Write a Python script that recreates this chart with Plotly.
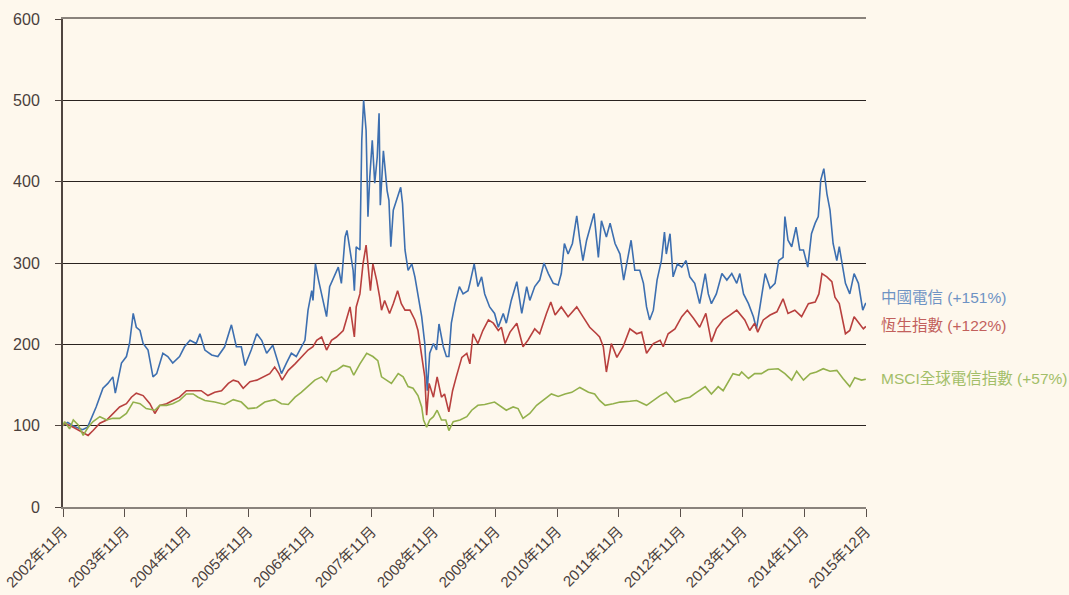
import pandas as pd
import plotly.graph_objects as go

# ---- data (decimal years, index values) ----
tick_dates = ["2002-11-01", "2003-11-01", "2004-11-01", "2005-11-01", "2006-11-01",
              "2007-11-01", "2008-11-01", "2009-11-01", "2010-11-01", "2011-11-01",
              "2012-11-01", "2013-11-01", "2014-11-01", "2015-11-01"]
tick_labels = ["2002年11月", "2003年11月", "2004年11月", "2005年11月", "2006年11月",
               "2007年11月", "2008年11月", "2009年11月", "2010年11月", "2011年11月",
               "2012年11月", "2013年11月", "2014年11月", "2015年12月"]

series_names = ["中國電信 (+151%)", "恆生指數 (+122%)", "MSCI全球電信指數 (+57%)"]

ct_t = [2002.83, 2002.91, 2002.99, 2003.07, 2003.15, 2003.23, 2003.29, 2003.37, 2003.48, 2003.56,
        2003.64, 2003.68, 2003.78, 2003.86, 2003.91, 2003.97, 2004.02, 2004.08, 2004.13, 2004.21,
        2004.29, 2004.35, 2004.45, 2004.53, 2004.61, 2004.72, 2004.80, 2004.89, 2004.99, 2005.05,
        2005.13, 2005.24, 2005.34, 2005.45, 2005.56, 2005.64, 2005.72, 2005.78, 2005.88, 2005.97,
        2006.05, 2006.13, 2006.23, 2006.29, 2006.37, 2006.45, 2006.53, 2006.61, 2006.69, 2006.75,
        2006.80, 2006.86, 2006.88, 2006.92, 2006.97, 2007.04, 2007.10, 2007.15, 2007.22, 2007.29,
        2007.34, 2007.40, 2007.43, 2007.48, 2007.53, 2007.55, 2007.58, 2007.64, 2007.67, 2007.70,
        2007.74, 2007.77, 2007.80, 2007.84, 2007.88, 2007.92, 2007.95, 2007.97, 2008.02, 2008.04,
        2008.08, 2008.11, 2008.14, 2008.18, 2008.23, 2008.30, 2008.33, 2008.37, 2008.42, 2008.48,
        2008.53, 2008.58, 2008.64, 2008.69, 2008.73, 2008.77, 2008.83, 2008.88, 2008.92, 2008.99,
        2009.04, 2009.08, 2009.12, 2009.18, 2009.25, 2009.31, 2009.39, 2009.42, 2009.49, 2009.55,
        2009.61, 2009.66, 2009.74, 2009.82, 2009.88, 2009.96, 2010.01, 2010.09, 2010.18, 2010.26,
        2010.34, 2010.39, 2010.47, 2010.55, 2010.62, 2010.69, 2010.77, 2010.85, 2010.90, 2010.95,
        2011.01, 2011.08, 2011.15, 2011.20, 2011.25, 2011.31, 2011.38, 2011.43, 2011.50, 2011.55,
        2011.63, 2011.69, 2011.77, 2011.85, 2011.91, 2011.96, 2012.03, 2012.09, 2012.17, 2012.23,
        2012.28, 2012.33, 2012.39, 2012.45, 2012.52, 2012.57, 2012.60, 2012.66, 2012.71, 2012.78,
        2012.85, 2012.92, 2012.98, 2013.06, 2013.14, 2013.23, 2013.28, 2013.33, 2013.41, 2013.50,
        2013.58, 2013.66, 2013.74, 2013.79, 2013.85, 2013.93, 2014.01, 2014.06, 2014.12, 2014.20,
        2014.28, 2014.36, 2014.42, 2014.49, 2014.52, 2014.57, 2014.63, 2014.70, 2014.76, 2014.82,
        2014.89, 2014.95, 2015.01, 2015.06, 2015.10, 2015.15, 2015.20, 2015.25, 2015.30, 2015.36,
        2015.40, 2015.45, 2015.50, 2015.57, 2015.64, 2015.71, 2015.78, 2015.83]
ct_v = [100, 104, 100, 97, 95, 98, 109, 123, 146, 152,
        160, 140, 177, 185, 201, 238, 221, 217, 201, 193,
        160, 164, 189, 185, 177, 185, 197, 205, 201, 213,
        193, 187, 185, 197, 224, 197, 197, 174, 193, 213,
        205, 189, 199, 185, 164, 177, 189, 185, 197, 205,
        242, 266, 254, 299, 279, 254, 234, 271, 283, 295,
        275, 332, 340, 316, 291, 266, 320, 316, 451, 500,
        463, 357, 406, 451, 398, 430, 484, 371, 438, 422,
        389, 377, 320, 365, 377, 393, 373, 316, 291, 299,
        283, 262, 234, 201, 143, 189, 201, 193, 225, 197,
        185, 185, 226, 250, 271, 262, 266, 275, 299, 271,
        283, 262, 246, 238, 221, 238, 226, 254, 277, 238,
        271, 254, 271, 279, 300, 287, 275, 273, 287, 324,
        311, 324, 358, 328, 303, 328, 349, 361, 307, 352,
        332, 349, 324, 311, 279, 299, 328, 291, 291, 275,
        246, 230, 242, 279, 303, 338, 311, 336, 283, 299,
        295, 303, 283, 275, 250, 287, 262, 250, 262, 287,
        279, 287, 275, 287, 262, 250, 234, 219, 246, 287,
        269, 275, 303, 307, 357, 328, 320, 344, 316, 316,
        295, 336, 349, 357, 402, 416, 385, 365, 324, 303,
        320, 295, 275, 262, 287, 275, 242, 251]

hsi_t = [2002.83, 2002.86, 2003.00, 2003.10, 2003.24, 2003.32, 2003.43, 2003.54, 2003.64, 2003.75,
         2003.86, 2003.94, 2004.02, 2004.13, 2004.24, 2004.32, 2004.40, 2004.51, 2004.61, 2004.72,
         2004.83, 2004.94, 2005.07, 2005.18, 2005.29, 2005.40, 2005.51, 2005.59, 2005.67, 2005.75,
         2005.86, 2005.97, 2006.07, 2006.18, 2006.26, 2006.33, 2006.38, 2006.48, 2006.59, 2006.69,
         2006.80, 2006.88, 2006.94, 2007.02, 2007.10, 2007.18, 2007.26, 2007.37, 2007.48, 2007.55,
         2007.58, 2007.64, 2007.69, 2007.74, 2007.77, 2007.81, 2007.85, 2007.91, 2007.96, 2007.99,
         2008.04, 2008.12, 2008.18, 2008.25, 2008.31, 2008.37, 2008.45, 2008.53, 2008.58, 2008.64,
         2008.69, 2008.72, 2008.76, 2008.83, 2008.89, 2008.96, 2009.01, 2009.08, 2009.14, 2009.20,
         2009.29, 2009.37, 2009.42, 2009.47, 2009.55, 2009.63, 2009.72, 2009.80, 2009.88, 2009.93,
         2009.99, 2010.07, 2010.18, 2010.28, 2010.36, 2010.47, 2010.55, 2010.66, 2010.73, 2010.80,
         2010.90, 2011.01, 2011.15, 2011.25, 2011.36, 2011.47, 2011.52, 2011.58, 2011.63, 2011.71,
         2011.80, 2011.90, 2012.01, 2012.12, 2012.20, 2012.28, 2012.39, 2012.50, 2012.55, 2012.63,
         2012.74, 2012.85, 2012.94, 2013.04, 2013.14, 2013.24, 2013.33, 2013.41, 2013.52, 2013.63,
         2013.74, 2013.87, 2013.95, 2014.03, 2014.08, 2014.17, 2014.28, 2014.39, 2014.49, 2014.57,
         2014.68, 2014.79, 2014.90, 2015.01, 2015.07, 2015.12, 2015.20, 2015.28, 2015.33, 2015.40,
         2015.45, 2015.50, 2015.57, 2015.64, 2015.72, 2015.79, 2015.83]
hsi_v = [100, 103, 98, 94, 88, 94, 103, 107, 115, 123,
         127, 135, 140, 137, 127, 115, 125, 127, 131, 135,
         143, 143, 143, 137, 141, 143, 152, 156, 154, 146,
         154, 156, 160, 164, 172, 164, 156, 168, 176, 184,
         193, 197, 205, 209, 193, 205, 209, 217, 246, 209,
         246, 262, 299, 322, 299, 266, 299, 279, 258, 242,
         254, 238, 250, 266, 250, 242, 242, 230, 217, 184,
         160, 113, 152, 135, 160, 135, 139, 117, 143, 160,
         184, 189, 176, 213, 201, 217, 230, 226, 217, 221,
         201, 215, 226, 197, 205, 219, 213, 238, 252, 236,
         246, 234, 246, 234, 221, 213, 209, 197, 166, 201,
         184, 197, 219, 213, 215, 189, 201, 205, 197, 213,
         219, 234, 242, 232, 221, 238, 203, 219, 230, 236,
         242, 230, 217, 226, 215, 230, 236, 240, 256, 238,
         242, 234, 250, 252, 262, 287, 283, 277, 258, 250,
         230, 213, 217, 234, 226, 219, 222]

msci_t = [2002.83, 2002.86, 2002.94, 2003.00, 2003.08, 2003.16, 2003.24, 2003.32, 2003.43, 2003.54,
          2003.64, 2003.75, 2003.86, 2003.97, 2004.08, 2004.18, 2004.32, 2004.40, 2004.51, 2004.61,
          2004.72, 2004.83, 2004.94, 2005.02, 2005.13, 2005.29, 2005.45, 2005.59, 2005.72, 2005.83,
          2005.97, 2006.10, 2006.26, 2006.37, 2006.48, 2006.59, 2006.69, 2006.80, 2006.91, 2007.02,
          2007.10, 2007.18, 2007.26, 2007.37, 2007.48, 2007.54, 2007.64, 2007.75, 2007.85, 2007.93,
          2007.99, 2008.07, 2008.15, 2008.26, 2008.34, 2008.42, 2008.50, 2008.58, 2008.64, 2008.67,
          2008.72, 2008.77, 2008.83, 2008.89, 2008.96, 2009.03, 2009.08, 2009.15, 2009.26, 2009.37,
          2009.45, 2009.55, 2009.66, 2009.82, 2009.93, 2010.01, 2010.12, 2010.20, 2010.28, 2010.39,
          2010.50, 2010.63, 2010.74, 2010.85, 2010.96, 2011.07, 2011.20, 2011.34, 2011.44, 2011.52,
          2011.61, 2011.74, 2011.85, 2012.01, 2012.12, 2012.28, 2012.39, 2012.50, 2012.60, 2012.74,
          2012.87, 2012.98, 2013.09, 2013.23, 2013.33, 2013.44, 2013.52, 2013.60, 2013.68, 2013.78,
          2013.82, 2013.93, 2014.03, 2014.14, 2014.25, 2014.41, 2014.52, 2014.63, 2014.71, 2014.82,
          2014.93, 2015.03, 2015.14, 2015.25, 2015.36, 2015.46, 2015.57, 2015.65, 2015.76, 2015.83]
msci_v = [100, 105, 96, 107, 101, 88, 98, 105, 111, 107,
          109, 109, 115, 129, 127, 121, 119, 125, 125, 127,
          131, 139, 139, 135, 131, 129, 126, 132, 129, 121,
          122, 129, 132, 127, 126, 135, 141, 148, 156, 160,
          154, 166, 168, 174, 172, 162, 176, 189, 185, 180,
          160, 156, 152, 164, 160, 148, 146, 137, 123, 107,
          98, 107, 111, 119, 107, 107, 94, 105, 107, 111,
          119, 125, 126, 129, 123, 119, 123, 121, 109, 115,
          125, 133, 139, 136, 139, 141, 147, 141, 139, 131,
          125, 127, 129, 130, 131, 125, 131, 137, 141, 129,
          133, 135, 141, 148, 139, 148, 143, 154, 164, 162,
          166, 158, 164, 164, 169, 170, 164, 156, 167, 156,
          164, 166, 170, 167, 168, 158, 148, 159, 156, 157]

y_ticks = [0, 100, 200, 300, 400, 500, 600]

# ---- helpers ----
BASE = pd.Timestamp("2002-11-01")
BASE_T = 2002 + 10 / 12


def to_dates(ts):
    return [BASE + pd.Timedelta(days=(t - BASE_T) * 365.25) for t in ts]


line_colors = ["#3d6fb0", "#b8403e", "#93b04c"]
label_colors = ["#6e93c4", "#c2605c", "#a2be68"]
label_y = [257, 223, 158]

BG = "#fef8ed"
FONT = "Liberation Sans, Arial, Noto Sans CJK TC, sans-serif"

fig = go.Figure()
for (t, v), name, col in zip([(ct_t, ct_v), (hsi_t, hsi_v), (msci_t, msci_v)],
                             series_names, line_colors):
    fig.add_trace(go.Scatter(x=to_dates(t), y=v, mode="lines", name=name,
                             line=dict(color=col, width=1.6), showlegend=False))

for name, col, yv in zip(series_names, label_colors, label_y):
    fig.add_annotation(x=1.016, xref="paper", y=yv, yref="y", text=name,
                       showarrow=False, xanchor="left", yanchor="middle",
                       font=dict(family=FONT, size=15.5, color=col))

fig.update_layout(
    width=1069, height=595,
    paper_bgcolor=BG, plot_bgcolor=BG,
    margin=dict(l=63, r=203, t=19, b=88, autoexpand=False),
    font=dict(family=FONT, size=15, color="#4a403c"),
)
fig.update_xaxes(
    type="date", automargin=False,
    range=[tick_dates[0], tick_dates[-1]],
    tickvals=tick_dates, ticktext=tick_labels, tickangle=-45,
    showgrid=False, zeroline=False,
    showline=True, linecolor="#8a837c", linewidth=1.5, mirror=True,
    ticks="outside", ticklen=8, tickwidth=1.2, tickcolor="#5a504a",
    tickfont=dict(family=FONT, size=15, color="#4a403c"),
)
fig.update_yaxes(
    automargin=False,
    range=[0, 600], tickvals=y_ticks,
    showgrid=True, gridcolor="#2a2320", gridwidth=1, zeroline=False,
    showline=True, linecolor="#4f4540", linewidth=2,
    ticks="outside", ticklen=6, tickwidth=1, tickcolor="#4f4540",
    ticklabelstandoff=12,
    tickfont=dict(family=FONT, size=16, color="#4a403c"),
)

fig.write_html(
    "out.html",
    config={"displayModeBar": False},
    post_script="document.body.style.margin='0';document.body.style.padding='0';"
                "document.body.style.background='" + BG + "';",
)
